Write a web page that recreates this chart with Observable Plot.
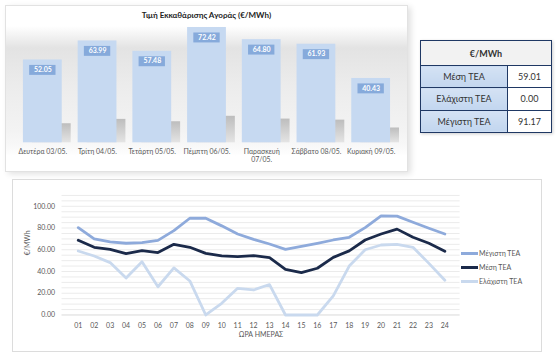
<!DOCTYPE html>
<html><head><meta charset="utf-8">
<script src="https://cdn.jsdelivr.net/npm/d3@7"></script>
<script src="https://cdn.jsdelivr.net/npm/@observablehq/plot@0.6"></script>
<style>
body{margin:0;background:#fff;font-family:Lato,sans-serif;}
#wrap{position:relative;width:557px;height:360px;overflow:hidden;background:#fff;}
.panel{position:absolute;box-sizing:border-box;}
#barPanel{left:5px;top:5px;width:403px;height:167px;border:1px solid #e2e2e2;
  background:linear-gradient(to bottom,#fff 0px,#fff 20px,#e3e3e3 42px,#ececec 80px,#f3f3f3 125px,#f8f8f8 140px,#fff 150px);
  box-shadow:3px 2px 6px rgba(0,0,0,0.12);}
#barTitle{position:absolute;left:0;width:100%;top:4px;text-align:center;font-weight:bold;font-size:8px;color:#222;}
#barTitle span{background:#fff;padding:1px 3px;}
#linePanel{left:12px;top:179px;width:530px;height:173px;border:1px solid #dcdcdc;background:#fff;}
.panel svg{position:absolute;left:-1px;top:-1px;}
#legend{position:absolute;left:461px;top:246px;font-size:7px;color:#595959;}
#legend div{height:14px;display:flex;align-items:center;white-space:nowrap;}
#legend i{display:inline-block;width:17px;height:3px;margin-right:1px;}
#tbl{position:absolute;left:420px;top:40px;width:132px;height:93px;border-collapse:collapse;border:1.5px solid #1f3864;font-size:9px;color:#333;box-shadow:1px 1px 3px rgba(0,0,0,0.2);}
#tbl td,#tbl th{border:1px solid #1f3864;text-align:center;padding:0;}
#tbl th{background:#f2f2f2;font-weight:bold;height:24px;}
#tbl td.l{background:linear-gradient(#d4e2f4,#c2d6ef);width:86px;}
#tbl td.v{background:#fff;}
</style></head><body>
<div id="wrap">
  <div class="panel" id="barPanel"><div id="barTitle"><span>Τιμή Εκκαθάρισης Αγοράς (€/MWh)</span></div></div>
  <table id="tbl"></table>
  <div class="panel" id="linePanel"></div>
  <div id="legend"></div>
</div>
<script>
// ---- Bar chart data ----
const days = ["Δευτέρα 03/05.", "Τρίτη 04/05.", "Τετάρτη 05/05.", "Πέμπτη 06/05.", "Παρασκευή 07/05.", "Σάββατο 08/05.", "Κυριακή 09/05."];
const dayPrices = [52.05, 63.99, 57.48, 72.42, 64.80, 61.93, 40.43];

// ---- Table data ----
const tableHeader = "€/MWh";
const tableLabels = ["Μέση ΤΕΑ", "Ελάχιστη ΤΕΑ", "Μέγιστη ΤΕΑ"];
const tableValues = ["59.01", "0.00", "91.17"];

// ---- Line chart data ----
const hours = ["01","02","03","04","05","06","07","08","09","10","11","12","13","14","15","16","17","18","19","20","21","22","23","24"];
const maxTEA  = [80.4, 70.0, 67.2, 66.0, 66.6, 68.7, 77.6, 89.0, 89.0, 82.0, 74.5, 69.6, 65.3, 60.4, 63.2, 66.0, 69.0, 71.5, 80.4, 91.17, 91.0, 85.3, 79.8, 74.5];
const meanTEA = [68.7, 62.3, 60.4, 56.4, 59.2, 57.4, 65.0, 62.3, 56.7, 54.3, 53.7, 54.6, 52.8, 42.0, 39.0, 43.0, 53.0, 59.0, 69.0, 74.5, 79.0, 71.5, 66.0, 58.6];
const minTEA  = [58.9, 54.3, 48.2, 34.0, 49.0, 26.0, 43.3, 31.3, 0.0, 10.7, 24.5, 23.0, 28.0, 0.0, 0.0, 0.0, 17.5, 45.0, 60.0, 64.4, 65.0, 62.3, 47.5, 32.0];
const seriesNames = ["Μέγιστη ΤΕΑ", "Μέση ΤΕΑ", "Ελάχιστη ΤΕΑ"];
const seriesColors = ["#8eaadb", "#1b2a4a", "#c9d9ee"];
const yTicks = [0, 20, 40, 60, 80, 100];

// ---- Bar chart ----
const dayRows = days.map((d, i) => ({day: d, price: dayPrices[i]}));
const barPlot = Plot.plot({
  width: 403, height: 167, marginTop: 10, marginBottom: 29, marginLeft: 9.5, marginRight: 8.5,
  style: {background: "transparent", fontFamily: "Lato, sans-serif", overflow: "visible"},
  x: {domain: days, paddingInner: 0.3, paddingOuter: 0.15},
  y: {domain: [0, 80], axis: null},
  marks: [
    Plot.barY(dayRows, {x: "day", y: d => d.price * 0.23, dx: 9, fill: "url(#shadowGrad)"}),
    Plot.barY(dayRows, {x: "day", y: "price", fill: "#c6d9f1"}),
    Plot.tickY(dayRows, {x: "day", y: "price", dy: 10, stroke: "#86aadb", strokeWidth: 10, insetLeft: 6.25, insetRight: 6.25}),
    Plot.text(dayRows, {x: "day", y: "price", dy: 10, text: d => d.price.toFixed(2), fill: "white", fontWeight: "bold", fontSize: 7}),
    Plot.axisX({tickSize: 0, tickPadding: 6, fontSize: 7, lineHeight: 1.15, color: "#595959", label: null,
      tickFormat: d => d.replace("Παρασκευή ", "Παρασκευή\n")})
  ]
});
const defs = d3.select(barPlot).insert("defs", ":first-child");
const grad = defs.append("linearGradient").attr("id", "shadowGrad").attr("x1", 0).attr("y1", 0).attr("x2", 0).attr("y2", 1);
grad.append("stop").attr("offset", "0%").attr("stop-color", "#bdbdbd");
grad.append("stop").attr("offset", "100%").attr("stop-color", "#e4e4e4");
document.getElementById("barPanel").appendChild(barPlot);

// ---- Table ----
const tbl = document.getElementById("tbl");
tbl.innerHTML = `<tr><th colspan="2">${tableHeader}</th></tr>` +
  tableLabels.map((l, i) => `<tr><td class="l">${l}</td><td class="v">${tableValues[i]}</td></tr>`).join("");

// ---- Line chart ----
const seriesValues = [maxTEA, meanTEA, minTEA];
const lineRows = seriesNames.map((n, s) => hours.map((h, i) => ({hour: h, value: seriesValues[s][i], name: n})));
const linePlot = Plot.plot({
  width: 530, height: 173, marginLeft: 49.7, marginRight: 80.7, marginTop: 16, marginBottom: 37,
  style: {background: "transparent", fontFamily: "Lato, sans-serif", overflow: "visible"},
  x: {type: "point", domain: hours, padding: 0.5},
  y: {domain: [0, 110]},
  marks: [
    Plot.gridY(d3.range(5, 111, 5), {stroke: "#ebebeb", strokeOpacity: 1}),
    Plot.ruleY([0], {stroke: "#d9d9d9"}),
    Plot.axisY(yTicks, {tickSize: 0, tickPadding: 7, tickFormat: d => d.toFixed(2), fontSize: 7, color: "#595959", label: null}),
    Plot.axisX({tickSize: 0, tickPadding: 8, fontSize: 7, color: "#595959", label: null}),
    Plot.line(lineRows[2], {x: "hour", y: "value", stroke: seriesColors[2], strokeWidth: 2.8}),
    Plot.line(lineRows[0], {x: "hour", y: "value", stroke: seriesColors[0], strokeWidth: 2.8}),
    Plot.line(lineRows[1], {x: "hour", y: "value", stroke: seriesColors[1], strokeWidth: 2.8}),
    Plot.text(["ΩΡΑ ΗΜΕΡΑΣ"], {text: d => d, frameAnchor: "bottom", dy: 22, fontSize: 7, fill: "#595959"}),
    Plot.text(["€/MWh"], {text: d => d, frameAnchor: "left", dx: -34, rotate: -90, fontSize: 7, fill: "#595959"})
  ]
});
document.getElementById("linePanel").appendChild(linePlot);

// ---- Legend ----
document.getElementById("legend").innerHTML = seriesNames.map((n, i) =>
  `<div><i style="background:${seriesColors[i]}"></i>${n}</div>`).join("");
</script>
</body></html>
